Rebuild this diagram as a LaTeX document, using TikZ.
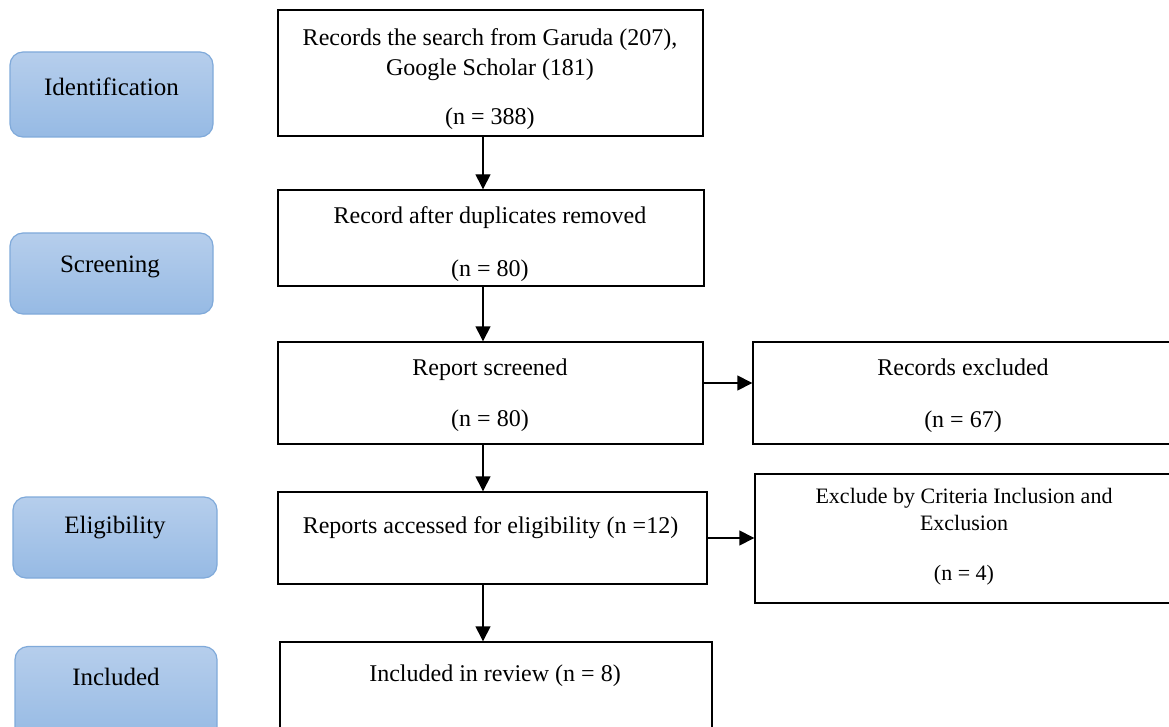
\documentclass[tikz,border=0pt]{standalone}
\usepackage{fontspec}
\setmainfont{Liberation Serif}
\usepackage{tikz}
\usetikzlibrary{positioning, calc, arrows.meta}

\definecolor{stagetop}{RGB}{182,206,236}
\definecolor{stagebot}{RGB}{150,186,228}
\definecolor{stageline}{RGB}{128,170,218}

\begin{document}
\begin{tikzpicture}[x=1pt, y=-1pt, line width=1.4pt,
    stage/.style={rounded corners=13pt, draw=stageline, line width=1.2pt,
        top color=stagetop, bottom color=stagebot, inner sep=0pt},
    stagetxt/.style={font=\fontsize{25}{30}\selectfont, inner sep=0pt},
    box/.style={draw, inner sep=0pt},
    boxtxt/.style={font=\fontsize{24}{30}\selectfont, align=center, inner sep=0pt},
    flow/.style={-{Triangle[length=15pt,width=15pt]}}]

    \clip (0,0) rectangle (1169,727);

    % --- Stage labels (left column) ---
    \node[stage, minimum width=203pt, minimum height=85pt] (sId) at (111.5,94.5) {};
    \node[stagetxt] (tId) at (111.5,87) {Identification};
    \node[stage, minimum width=203pt, minimum height=81pt] (sScr) at (111.5,273.5) {};
    \node[stagetxt] (tScr) at (110,267) {Screening};
    \node[stage, minimum width=204pt, minimum height=81pt] (sElig) at (115,537.5) {};
    \node[stagetxt] (tElig) at (115,528) {Eligibility};
    \node[stage, minimum width=202pt, minimum height=93pt] (sIncl) at (116,693) {};
    \node[stagetxt] (tIncl) at (116,677) {Included};

    % --- Main column ---
    \node[box, minimum width=425pt, minimum height=126pt] (b1) at (490.5,73) {};
    \node[boxtxt] (t1) at (490,79) {Records the search from Garuda (207),\\Google Scholar (181)\\[19pt](n = 388)};
    \node[box, minimum width=426pt, minimum height=96pt] (b2) at (491,238) {};
    \node[boxtxt] (t2) at (490,244.5) {Record after duplicates removed\\[23pt](n = 80)};
    \node[box, minimum width=425pt, minimum height=102pt] (b3) at (490.5,393) {};
    \node[boxtxt] (t3) at (490,395.5) {Report screened\\[21pt](n = 80)};
    \node[box, minimum width=429pt, minimum height=92pt] (b4) at (492.5,538) {};
    \node[boxtxt] (t4) at (490.5,528) {Reports accessed for eligibility (n =12)};
    \node[box, minimum width=432pt, minimum height=98pt] (b5) at (496,691) {};
    \node[boxtxt] (t5) at (495,676) {Included in review (n = 8)};

    % --- Excluded column (runs past right edge) ---
    \node[box, minimum width=427pt, minimum height=102pt] (r1) at (966.5,393) {};
    \node[boxtxt] (tr1) at (963,396) {Records excluded\\[22pt](n = 67)};
    \node[box, minimum width=425pt, minimum height=129pt] (r2) at (967.5,538.5) {};
    \node[boxtxt, font=\fontsize{22}{27}\selectfont] (tr2) at (964,537)
        {Exclude by Criteria Inclusion and\\Exclusion\\[23pt](n = 4)};

    % --- Arrows ---
    \coordinate (ax) at (483,0);
    \draw[flow] (b1.south -| ax) -- (b2.north -| ax);
    \draw[flow] (b2.south -| ax) -- (b3.north -| ax);
    \draw[flow] (b3.south -| ax) -- (b4.north -| ax);
    \draw[flow] (b4.south -| ax) -- (b5.north -| ax);
    \draw[flow] ([yshift=10pt]b3.east) -- ([yshift=10pt]r1.west);
    \draw[flow] (b4.east) -- (r2.west |- b4.east);

\end{tikzpicture}
\end{document}
